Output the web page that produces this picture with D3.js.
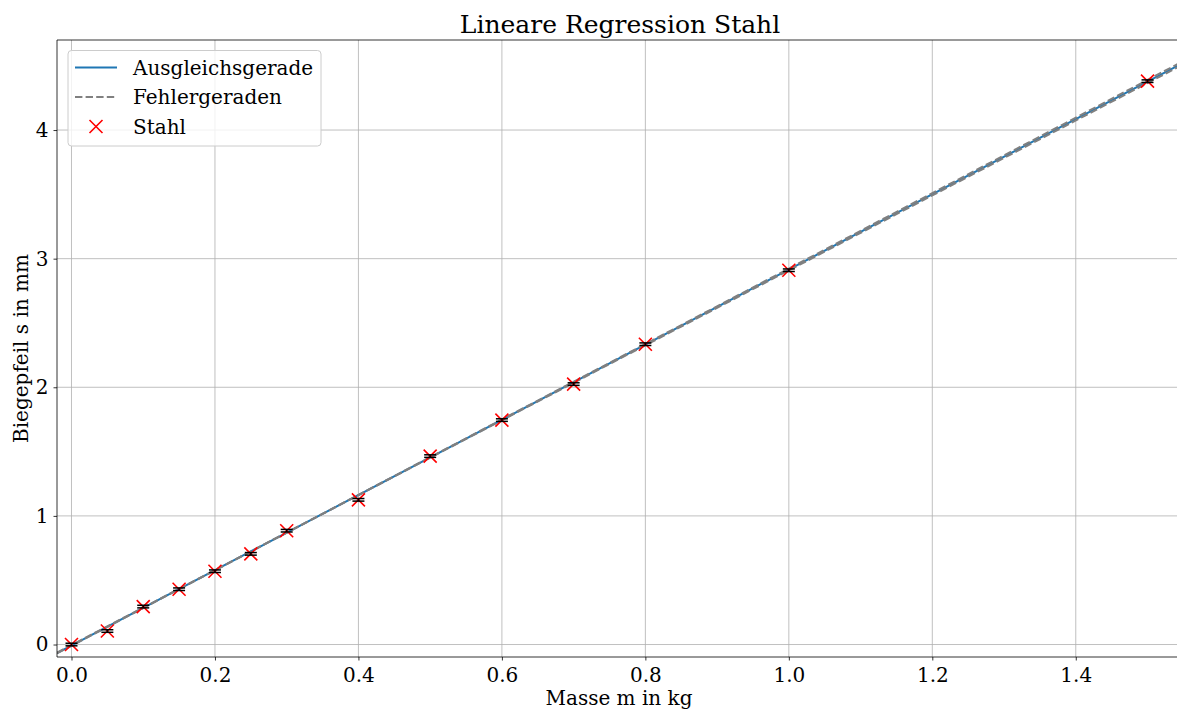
<!DOCTYPE html>
<html><head><meta charset="utf-8">
<script src="https://cdn.jsdelivr.net/npm/d3@7"></script>
<style>body{margin:0;background:#fff}svg{display:block}text{font-family:"DejaVu Serif",serif;fill:#000}</style>
</head><body>
<svg id="c" width="1177" height="709"></svg>
<script>
const masses = [0, 0.05, 0.1, 0.15, 0.2, 0.25, 0.3, 0.4, 0.5, 0.6, 0.7, 0.8, 1.0, 1.5];
const deflection = [0.0, 0.105, 0.295, 0.43, 0.57, 0.705, 0.885, 1.125, 1.465, 1.745, 2.025, 2.335, 2.91, 4.38];
const yErr = [0.01, 0.01, 0.01, 0.01, 0.01, 0.01, 0.01, 0.01, 0.01, 0.01, 0.01, 0.01, 0.01, 0.01];
const fitSlope = 2.923, fitIntercept = -0.007;
const errLines = [{slope: 2.933, intercept: -0.010}, {slope: 2.913, intercept: -0.004}];
const xTicks = [0.0, 0.2, 0.4, 0.6, 0.8, 1.0, 1.2, 1.4];
const yTicks = [0, 1, 2, 3, 4];
const xDomain = [-0.0202, 1.5425], yDomain = [-0.097, 4.70];
const legendLabels = ["Ausgleichsgerade", "Fehlergeraden", "Stahl"];

const svg = d3.select("#c");
const L = 57, R = 1178, T = 40, B = 657;
const x = d3.scaleLinear().domain(xDomain).range([L, R]);
const y = d3.scaleLinear().domain(yDomain).range([B, T]);

svg.append("defs").append("clipPath").attr("id","clip").append("rect")
  .attr("x",L).attr("y",T).attr("width",R-L).attr("height",B-T);

// grid
const g = svg.append("g");
g.selectAll(".gx").data(xTicks).join("line")
  .attr("x1",d=>x(d)).attr("x2",d=>x(d)).attr("y1",T).attr("y2",B)
  .attr("stroke","#b0b0b0").attr("stroke-width",0.8);
g.selectAll(".gy").data(yTicks).join("line")
  .attr("y1",d=>y(d)).attr("y2",d=>y(d)).attr("x1",L).attr("x2",R)
  .attr("stroke","#b0b0b0").attr("stroke-width",0.8);

// axes
const xAxis = d3.axisBottom(x).tickValues(xTicks).tickFormat(d3.format(".1f")).tickSizeInner(3.5).tickSizeOuter(0).tickPadding(3.5);
const yAxis = d3.axisLeft(y).tickValues(yTicks).tickFormat(d3.format("d")).tickSizeInner(3.5).tickSizeOuter(0).tickPadding(5);
const gx = svg.append("g").attr("transform",`translate(0,${B})`).call(xAxis);
const gy = svg.append("g").attr("transform",`translate(${L},0)`).call(yAxis);
[gx,gy].forEach(a=>{
  a.select(".domain").remove();
  a.selectAll("line").attr("stroke","#000").attr("stroke-width",0.8);
  a.selectAll("text").style("font-family","DejaVu Serif").style("font-size","20px").attr("fill","#000");
});
gx.selectAll("text").attr("dy","0.9em");

// data layer
const plot = svg.append("g").attr("clip-path","url(#clip)");
plot.append("line")
  .attr("x1",x(xDomain[0])).attr("y1",y(fitSlope*xDomain[0]+fitIntercept))
  .attr("x2",x(xDomain[1])).attr("y2",y(fitSlope*xDomain[1]+fitIntercept))
  .attr("stroke","#1f77b4").attr("stroke-width",2);
errLines.forEach(l=>{
  plot.append("line")
    .attr("x1",x(xDomain[0])).attr("y1",y(l.slope*xDomain[0]+l.intercept))
    .attr("x2",x(xDomain[1])).attr("y2",y(l.slope*xDomain[1]+l.intercept))
    .attr("stroke","#808080").attr("stroke-width",2).attr("stroke-dasharray","7.4,3.2");
});
const pts = masses.map((m,i)=>({m, s:deflection[i], e:yErr[i]}));
plot.selectAll(".mk").data(pts).join("path")
  .attr("d",d=>{const cx=x(d.m), cy=y(d.s), r=6.5; return `M${cx-r},${cy-r}L${cx+r},${cy+r}M${cx-r},${cy+r}L${cx+r},${cy-r}`;})
  .attr("stroke","red").attr("stroke-width",1.6).attr("fill","none");
const eb = plot.selectAll(".eb").data(pts).join("g");
eb.append("line").attr("x1",d=>x(d.m)).attr("x2",d=>x(d.m)).attr("y1",d=>y(d.s-d.e)).attr("y2",d=>y(d.s+d.e)).attr("stroke","#000").attr("stroke-width",1.5);
eb.append("line").attr("x1",d=>x(d.m)-6).attr("x2",d=>x(d.m)+6).attr("y1",d=>y(d.s-d.e)).attr("y2",d=>y(d.s-d.e)).attr("stroke","#000").attr("stroke-width",1.5);
eb.append("line").attr("x1",d=>x(d.m)-6).attr("x2",d=>x(d.m)+6).attr("y1",d=>y(d.s+d.e)).attr("y2",d=>y(d.s+d.e)).attr("stroke","#000").attr("stroke-width",1.5);

// spines
svg.append("line").attr("x1",L).attr("x2",L).attr("y1",T).attr("y2",B).attr("stroke","#000").attr("stroke-width",0.8);
svg.append("line").attr("x1",L).attr("x2",R).attr("y1",B).attr("y2",B).attr("stroke","#000").attr("stroke-width",0.8);
svg.append("line").attr("x1",L).attr("x2",R).attr("y1",T).attr("y2",T).attr("stroke","#000").attr("stroke-width",0.8);

// title and labels
svg.append("text").attr("x",620).attr("y",33).attr("text-anchor","middle").style("font-size","25px").text("Lineare Regression Stahl");
svg.append("text").attr("x",619).attr("y",705).attr("text-anchor","middle").style("font-size","20px").text("Masse m in kg");
svg.append("text").attr("transform","translate(28,348.5) rotate(-90)").attr("text-anchor","middle").style("font-size","20px").text("Biegepfeil s in mm");

// legend
const lg = svg.append("g");
lg.append("rect").attr("x",68).attr("y",50.5).attr("width",253).attr("height",95.5).attr("rx",3.5)
  .attr("fill","#fff").attr("fill-opacity",0.8).attr("stroke","#ccc").attr("stroke-width",1);
const rows = [67.5, 97, 126.5];
lg.append("line").attr("x1",75).attr("x2",117).attr("y1",rows[0]).attr("y2",rows[0]).attr("stroke","#1f77b4").attr("stroke-width",2);
lg.append("line").attr("x1",75).attr("x2",117).attr("y1",rows[1]).attr("y2",rows[1]).attr("stroke","#808080").attr("stroke-width",2).attr("stroke-dasharray","7.4,3.2");
lg.append("path").attr("d",`M${96-6.5},${rows[2]-6.5}L${96+6.5},${rows[2]+6.5}M${96-6.5},${rows[2]+6.5}L${96+6.5},${rows[2]-6.5}`).attr("stroke","red").attr("stroke-width",1.6);
lg.selectAll(".lt").data(legendLabels).join("text").attr("x",133).attr("y",(d,i)=>rows[i]).attr("dy","0.35em").style("font-size","20px").text(d=>d);
</script>
</body></html>
